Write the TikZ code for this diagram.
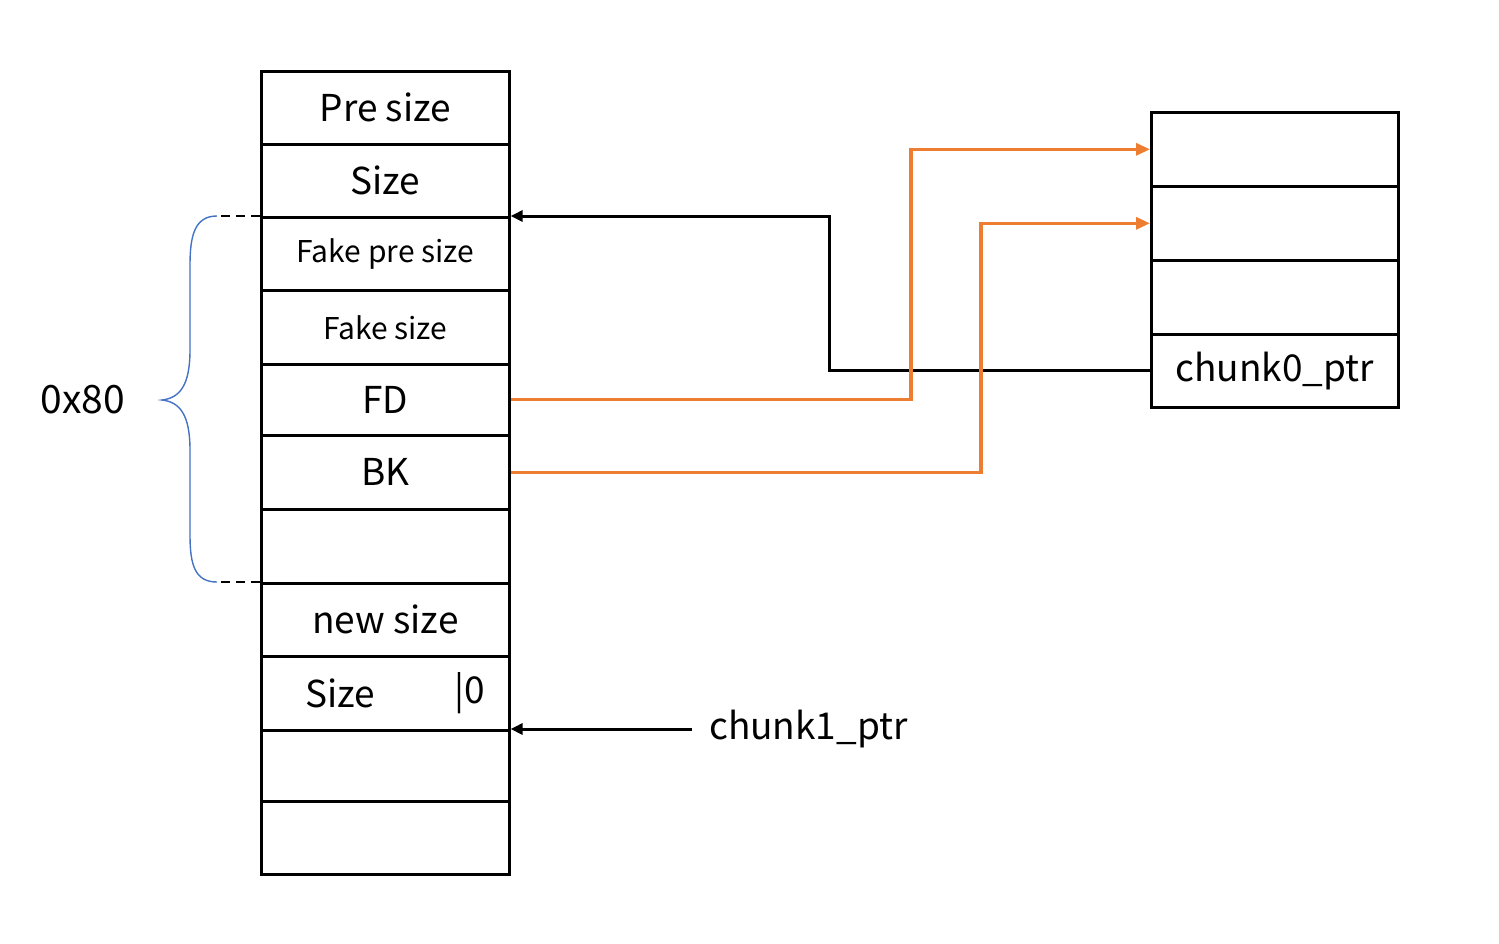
\documentclass[tikz,border=0pt]{standalone}
\usepackage{fontspec}
\setmainfont{Noto Sans CJK SC}
\usetikzlibrary{arrows.meta,calc}
\definecolor{orng}{HTML}{ED7D31}
\definecolor{brc}{HTML}{4472C4}
\tikzset{
  cell/.style={draw=black, line width=2.6pt, minimum width=248pt, inner sep=0pt, anchor=north west, font=\fontsize{37}{40}\selectfont},
  smallcell/.style={cell, font=\fontsize{30}{33}\selectfont},
  blk/.style={draw=black, line width=3pt, -{Triangle[length=12pt,width=11pt]}},
  org/.style={draw=orng, line width=3.2pt, -{Triangle[length=14pt,width=12pt]}},
  lbl/.style={font=\fontsize{37}{40}\selectfont, inner sep=0pt},
}
\begin{document}
\begin{tikzpicture}[x=1pt,y=-1pt]
\useasboundingbox (0,0) rectangle (1499,943);
% left column
\node[cell, minimum height=73pt] (pre) at (260,70) {Pre size};
\node[cell, minimum height=73pt] (sz) at (260,143) {Size};
\node[smallcell, minimum height=73pt] (fps) at (260,216) {Fake pre size};
\node[smallcell, minimum height=74pt] (fs) at (260,289) {Fake size};
\node[cell, minimum height=71pt] (fd) at (260,363) {FD};
\node[cell, minimum height=74pt] (bk) at (260,434) {BK};
\node[cell, minimum height=74pt] (emp) at (260,508) {};
\node[cell, minimum height=73pt] (ns) at (260,582) {new size};
\node[cell, minimum height=74pt] (sz2) at (260,655) {};
\node[lbl] (sz2a) at (340,693) {Size};
\node[lbl] (sz2b) at (470,693) {|0};
\node[cell, minimum height=71pt] (e1) at (260,729) {};
\node[cell, minimum height=73pt] (e2) at (260,800) {};
% right column
\node[cell, minimum width=247pt, minimum height=74pt] (r1) at (1150,111) {};
\node[cell, minimum width=247pt, minimum height=74pt] (r2) at (1150,185) {};
\node[cell, minimum width=247pt, minimum height=74pt] (r3) at (1150,259) {};
\node[cell, minimum width=247pt, minimum height=73pt] (r4) at (1150,333) {chunk0\_ptr};
% labels
\node[lbl, font=\fontsize{39}{42}\selectfont] (hex) at (83,400) {0x80};
\node[lbl, anchor=west, inner xsep=17pt] (c1) at (692,729) {chunk1\_ptr};
% coordinates for bends
\coordinate (xb) at (829,0);
\coordinate (xf) at (911,0);
\coordinate (xk) at (981,0);
% connectors
\draw[blk] (r4.west) -- (r4.west -| xb) |- (fps.north east);
\draw[org] (fd.east) -- (fd.east -| xf) |- (r1.west);
\draw[org] (bk.east) -- (bk.east -| xk) |- (r2.west);
\draw[blk] (c1.west) -- (e1.north east);
% brace
\coordinate (bt) at (217,216);
\coordinate (bb) at (217,582);
\coordinate (tip) at (162,400);
\draw[brc, line width=1.4pt] (bt) .. controls (195,216) and (190,235) .. (190,265)
  -- (190,350) .. controls (190,385) and (180,398) .. (tip)
  .. controls (180,402) and (190,415) .. (190,450)
  -- (190,535) .. controls (190,565) and (195,582) .. (bb);
\draw[black, line width=2.4pt, dash pattern=on 9pt off 6pt] (221,216) -- (fps.north west);
\draw[black, line width=2.4pt, dash pattern=on 9pt off 6pt] (221,582) -- (ns.north west);
\end{tikzpicture}
\end{document}
